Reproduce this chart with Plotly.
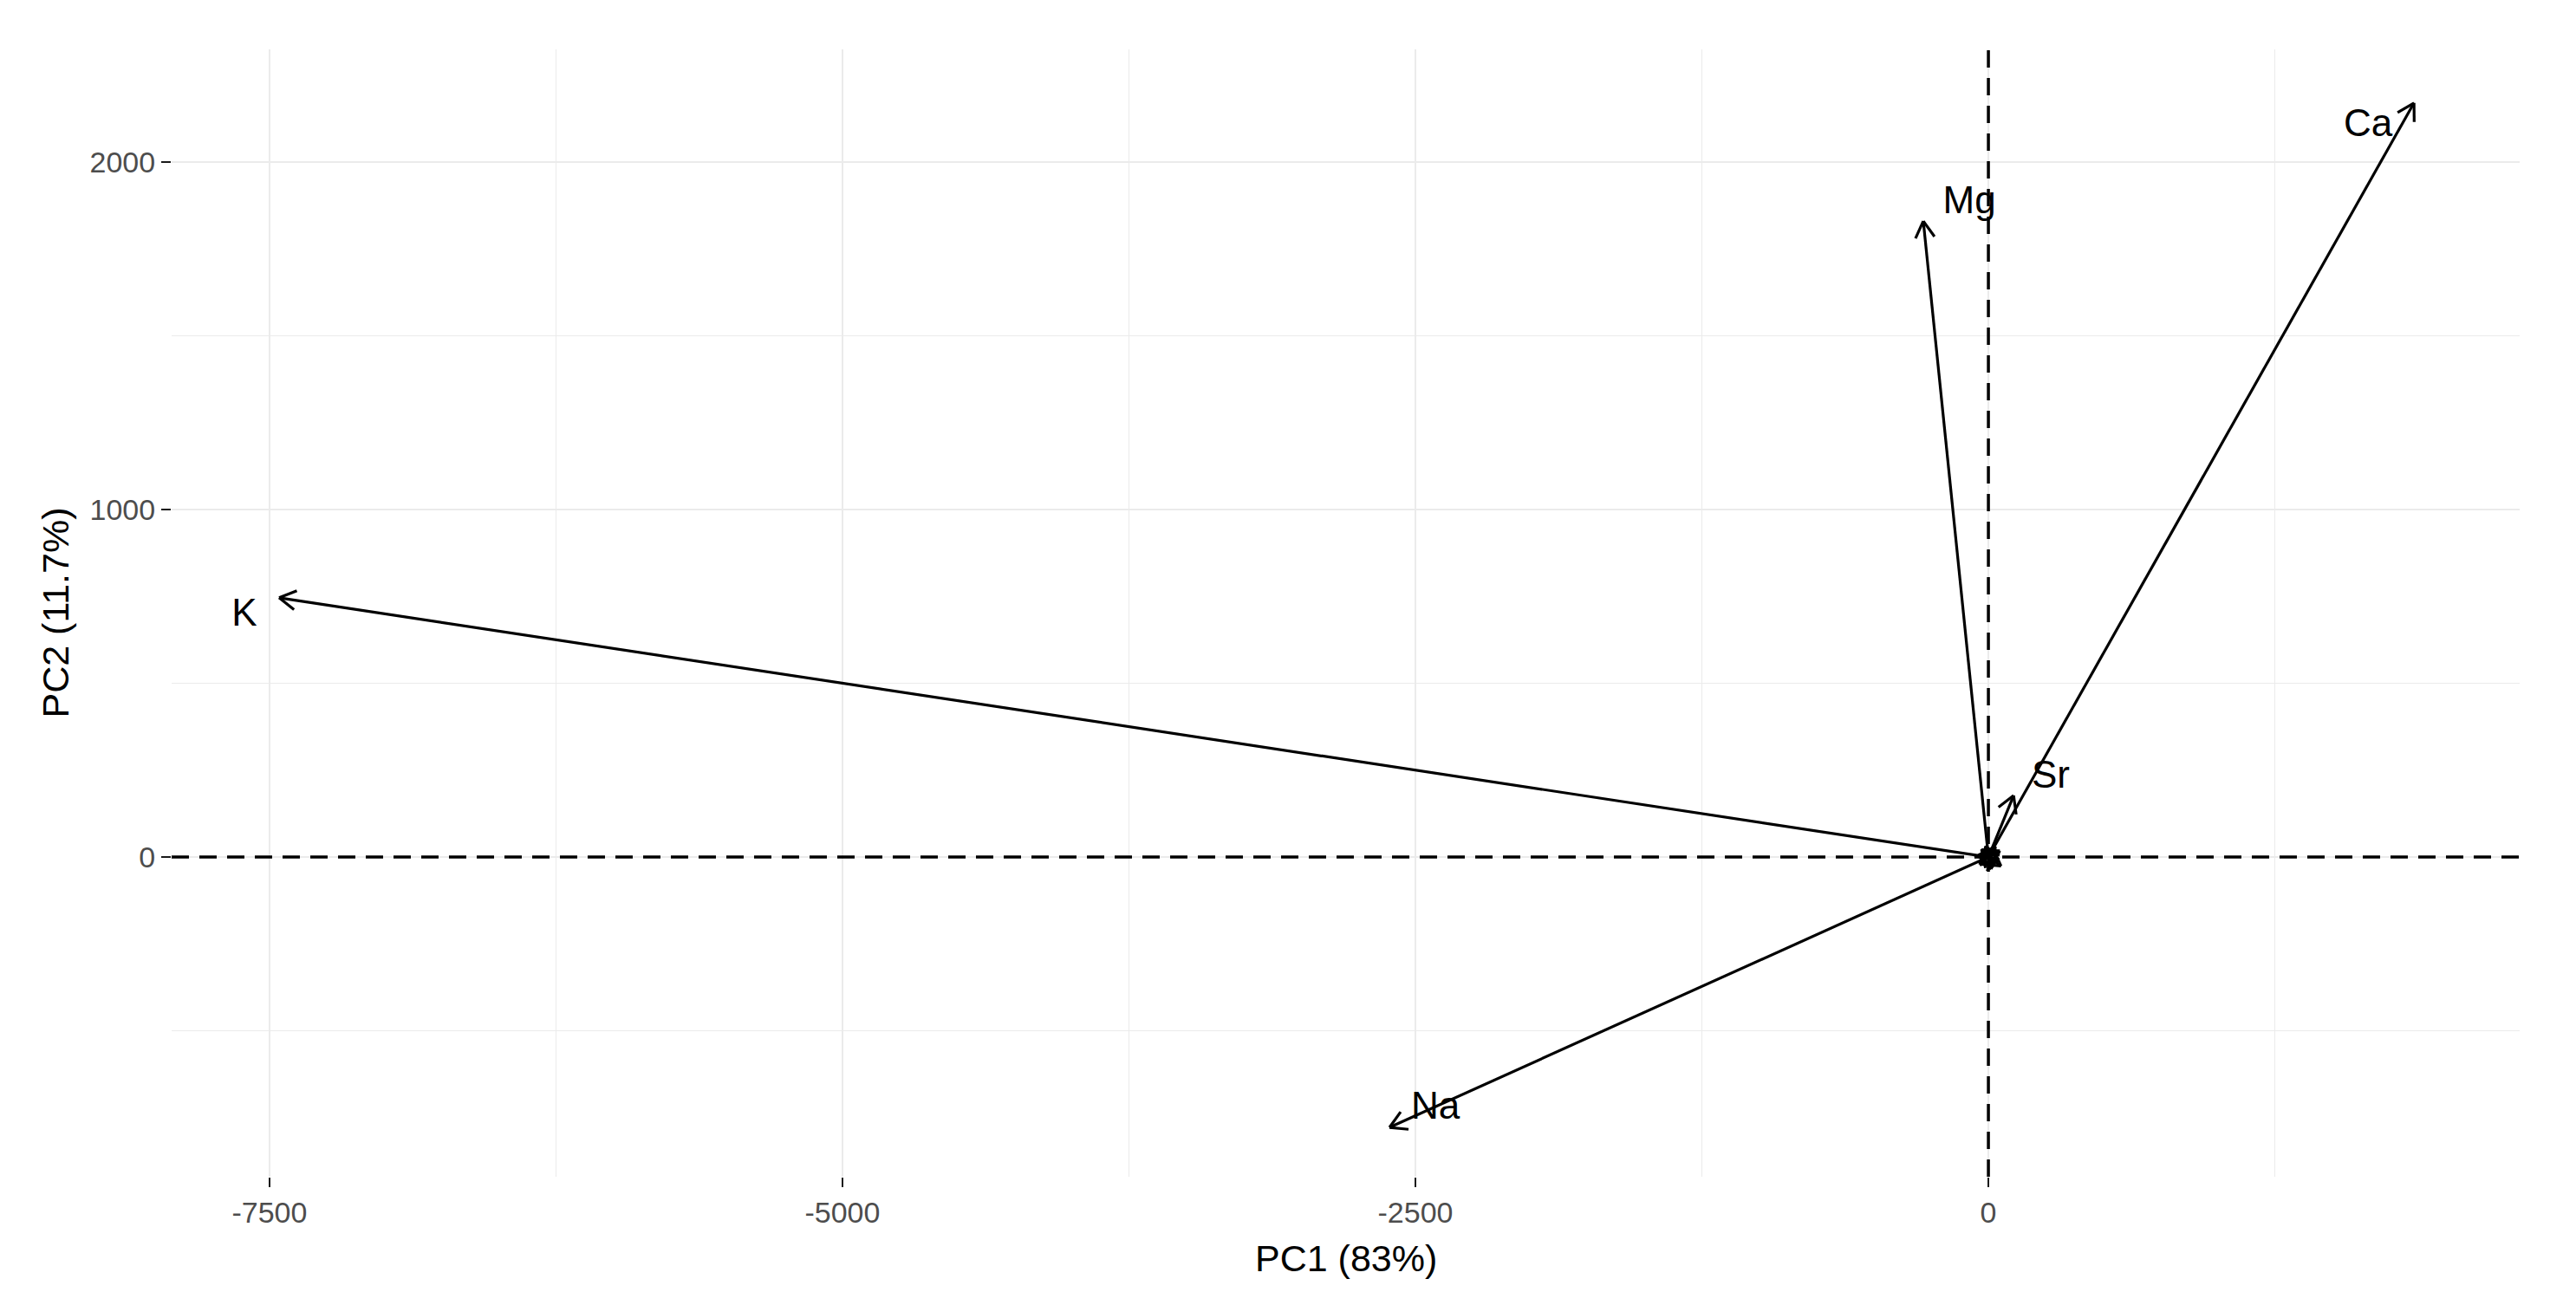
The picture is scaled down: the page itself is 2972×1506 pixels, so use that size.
import math
import plotly.graph_objects as go

# loadings (PC1, PC2)
variables = ["Ca", "Mg", "K", "Na", "Sr"]
pc1 = [1857, -284, -7458, -2613, 110]
pc2 = [2170, 1830, 746, -778, 177]

# where the variable names sit (data units)
label_x = [1657, -83, -7610, -2413, 272]
label_y = [2102, 1880, 693, -726, 227]

# tiny loadings crowded at the origin (no readable names)
minor_pc1 = [30, 45, -38, -30, 12, 50, -10, 55, -45, 20]
minor_pc2 = [30, -8, -22, 22, -35, 18, 32, -26, 2, 12]

x_ticks = [-7500, -5000, -2500, 0]
x_ticktext = ["-7500", "-5000", "-2500", "0"]
y_ticks = [0, 1000, 2000]
y_ticktext = ["0", "1000", "2000"]

x_title = "PC1 (83%)"
y_title = "PC2 (11.7%)"

# page body has an 8px margin; shrink the figure so the panel lands where it should
OFF = 8
W, H = 2972 - 2 * OFF, 1506 - 2 * OFF
ML, MR, MT, MB = 198 - OFF, 65 - OFF, 57 - OFF, 148 - OFF
XR = [-7927, 2318]
YR = [-920, 2324]
FONT = "Liberation Sans, Arial, sans-serif"

# pixels per data unit, needed so arrowheads look the same on both axes
sx = (W - ML - MR) / (XR[1] - XR[0])
sy = (H - MT - MB) / (YR[1] - YR[0])


def arrow_xy(x1, y1, head=22, ang=30):
    """Shaft from origin plus two barbs at the tip, as one polyline with gaps."""
    px, py = x1 * sx, y1 * sy
    n = math.hypot(px, py) or 1.0
    ux, uy = px / n, py / n
    xs = [0, x1, None]
    ys = [0, y1, None]
    for s in (1, -1):
        a = math.radians(ang * s)
        bx = ux * math.cos(a) - uy * math.sin(a)
        by = ux * math.sin(a) + uy * math.cos(a)
        xs += [x1 - head * bx / sx, x1, None]
        ys += [y1 - head * by / sy, y1, None]
    return xs, ys


ax, ay = [], []
for x1, y1 in zip(pc1 + minor_pc1, pc2 + minor_pc2):
    xs, ys = arrow_xy(x1, y1)
    ax += xs
    ay += ys

fig = go.Figure()

# dashed reference lines through the origin, under the arrows but over the grid
dash_line = dict(color="black", width=3.5, dash="20px,12px")
fig.add_trace(go.Scatter(x=XR, y=[0, 0], mode="lines", line=dash_line,
                         hoverinfo="skip", showlegend=False))
fig.add_trace(go.Scatter(x=[0, 0], y=YR, mode="lines", line=dash_line,
                         hoverinfo="skip", showlegend=False))

fig.add_trace(go.Scatter(
    x=ax, y=ay, mode="lines",
    line=dict(color="black", width=3.2),
    hoverinfo="skip", showlegend=False
))
fig.add_trace(go.Scatter(
    x=label_x, y=label_y, mode="text", text=variables,
    textfont=dict(family=FONT, size=44, color="black"),
    hoverinfo="skip", showlegend=False
))

axis_common = dict(
    showline=False, zeroline=False,
    showgrid=True, gridcolor="#EBEBEB", gridwidth=2.2,
    ticks="outside", ticklen=11, tickwidth=2.2, tickcolor="#1a1a1a",
    tickfont=dict(family=FONT, size=34, color="#4D4D4D"),
)

fig.update_layout(
    width=W, height=H,
    margin=dict(l=ML, r=MR, t=MT, b=MB),
    paper_bgcolor="white", plot_bgcolor="white",
    font=dict(family=FONT, color="black"),
    xaxis=dict(range=XR, tickvals=x_ticks, ticktext=x_ticktext,
               minor=dict(showgrid=True, gridcolor="#EBEBEB", gridwidth=1.1,
                          tickvals=[-6250, -3750, -1250, 1250]),
               **axis_common),
    yaxis=dict(range=YR, tickvals=y_ticks, ticktext=y_ticktext,
               minor=dict(showgrid=True, gridcolor="#EBEBEB", gridwidth=1.1,
                          tickvals=[-500, 500, 1500]),
               **axis_common),
    annotations=[
        dict(text=x_title, xref="paper", yref="paper", x=0.5, y=0,
             xanchor="center", yanchor="middle", yshift=-94, showarrow=False,
             font=dict(family=FONT, size=43, color="black")),
        dict(text=y_title, xref="paper", yref="paper", x=0, y=0.5,
             xanchor="center", yanchor="middle", xshift=-135, textangle=-90,
             showarrow=False, font=dict(family=FONT, size=43, color="black")),
    ],
)

fig.write_html("out.html")
